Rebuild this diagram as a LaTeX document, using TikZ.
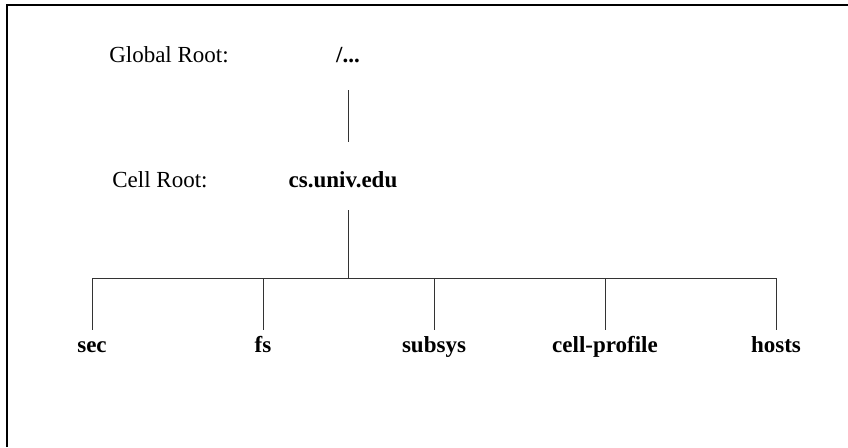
\documentclass[tikz,border=0pt]{standalone}
\usepackage{fontspec}
\setmainfont{Liberation Serif}
\usetikzlibrary{positioning}

\tikzset{
  lbl/.style={inner sep=0pt,text height=8pt,text depth=2.5pt,font=\fontsize{11.5}{13}\selectfont},
  dir/.style={lbl,font=\fontsize{11.5}{13}\selectfont\bfseries},
  link/.style={draw=black!80,line width=0.5pt}
}

\begin{document}
\begin{tikzpicture}[x=0.5pt,y=-0.5pt,node distance=85.5pt,on grid]
  \useasboundingbox (0,0) rectangle (848,447);
  \draw[line width=0.8pt] (7,447) -- (7,5) -- (848,5);

  \node[lbl,anchor=base] (globlbl) at (169,62) {Global Root:};
  \node[dir,anchor=base] (glob) at (348,62) {/...};
  \node[lbl,anchor=base] (celllbl) at (160,187) {Cell Root:};
  \node[dir,anchor=base] (cell) at (343,187) {cs.univ.edu};

  \node[dir,anchor=base] (sec) at (92,352) {sec};
  \node[dir] (fs) [right=of sec] {fs};
  \node[dir] (subsys) [right=of fs] {subsys};
  \node[dir] (profile) [right=of subsys] {cell-profile};
  \node[dir] (hosts) [right=of profile] {hosts};
  \coordinate (bus) at (348,278);

  \draw[link,shorten <=11.5pt,shorten >=14.5pt] (glob.south) -- (glob.south |- cell.north);
  \draw[link,shorten <=9pt] (glob.south |- cell.south) -- (bus);
  \draw[link] (sec |- bus) -- (hosts |- bus);
  \foreach \c in {sec,fs,subsys,profile,hosts}
    \draw[link,shorten >=3pt] (\c |- bus) -- (\c.north);
\end{tikzpicture}
\end{document}
